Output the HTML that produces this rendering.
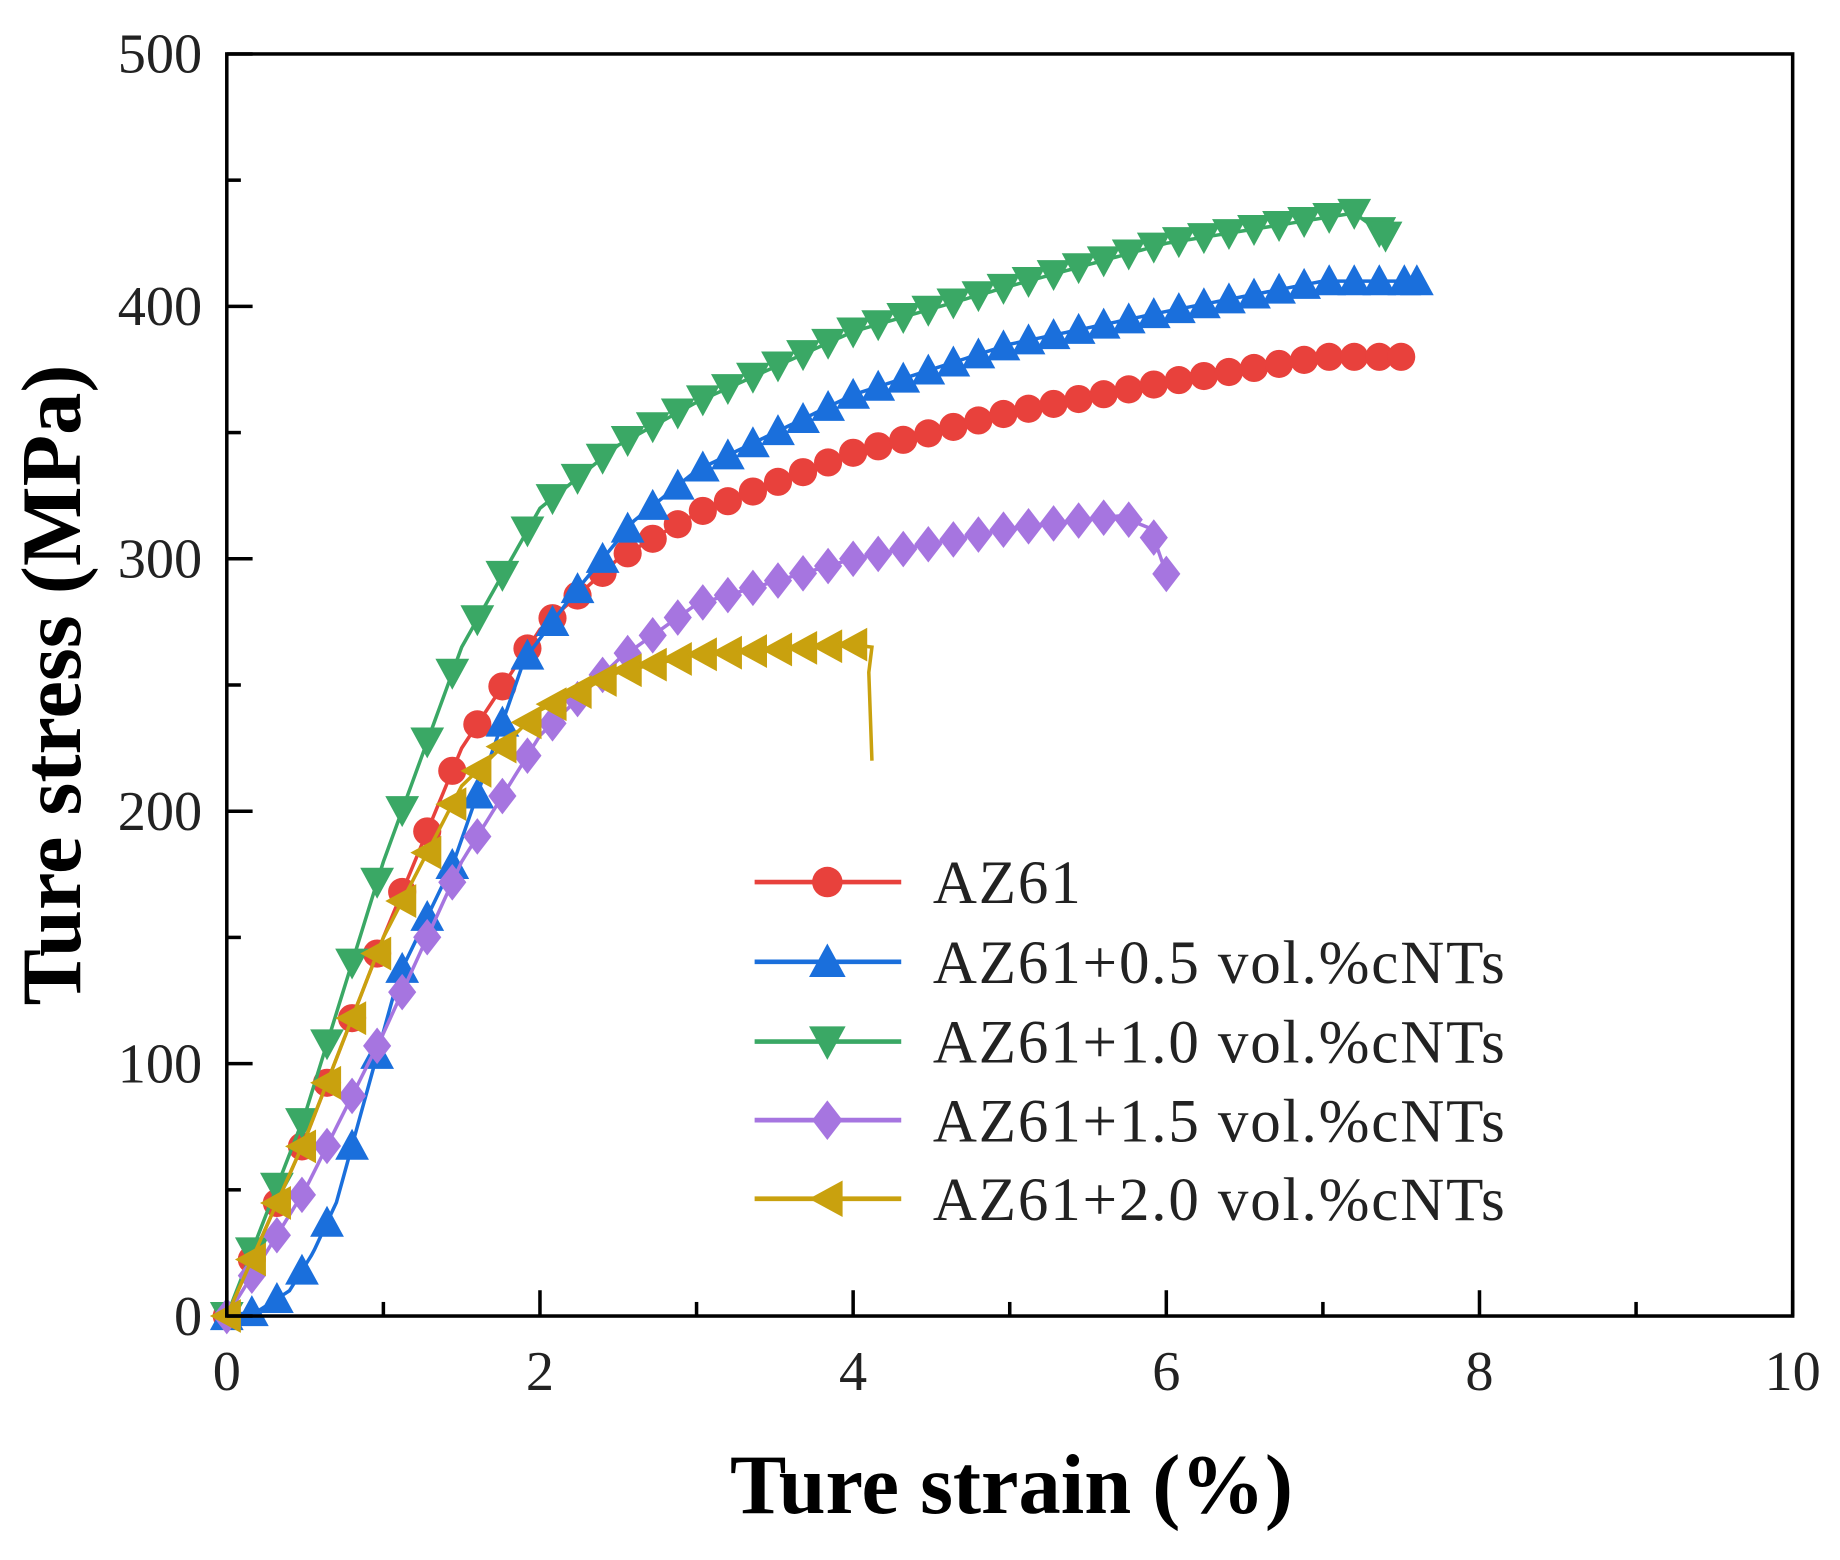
<!DOCTYPE html>
<html><head><meta charset="utf-8"><style>html,body{margin:0;padding:0;background:#fff}svg{display:block}</style></head>
<body>
<svg id="s" width="1840" height="1560" viewBox="0 0 1568 1330" xmlns="http://www.w3.org/2000/svg" font-family="'Liberation Serif',serif">
<rect width="1568" height="1330" fill="#fff"/>
<g id="data"></g>
<rect x="193" y="46" width="1335" height="1076" fill="none" stroke="#000" stroke-width="3"/>
<g id="ticks" stroke="#000" stroke-width="3"></g>
<g font-size="48" fill="#222" id="lbl"></g>
<text x="862" y="1290" font-size="72" font-weight="bold" text-anchor="middle">Ture strain (%)</text>
<text transform="translate(68,584) rotate(-90)" font-size="72" font-weight="bold" text-anchor="middle">Ture stress (MPa)</text>
<g id="leg" font-size="52" fill="#222" letter-spacing="1.6"></g>
</svg>
<script>
const NS="http://www.w3.org/2000/svg";
function el(p,t,a,txt){const e=document.createElementNS(NS,t);for(const k in a)e.setAttribute(k,a[k]);if(txt!==undefined)e.textContent=txt;document.getElementById(p).appendChild(e);return e;}
const X=v=>193+v*133.5, Y=v=>1122-v*2.152;
for(let i=0;i<=10;i++){const x=X(i);el('ticks','line',{x1:x,y1:1122,x2:x,y2:i%2?1110:1100});
 if(i%2==0)el('lbl','text',{x:x,y:1185,'text-anchor':'middle'},String(i));}
for(let j=0;j<=500;j+=50){const y=Y(j);el('ticks','line',{x1:193,y1:y,x2:j%100?205:215,y2:y});
 if(j%100==0)el('lbl','text',{x:172,y:y+16,'text-anchor':'end'},String(j));}
const S=[
 {c:'#e8413c',m:'o',p:[[0,0],[0.5,70],[1,150],[1.5,225],[2,272],[2.5,300],[3,318],[4,342],[5,358],[6,370],[7,380],[7.5,380]]},
 {c:'#1a6fdc',m:'^',p:[[0,0],[0.2,2],[0.4,10],[0.55,25],[0.7,45],[0.9,90],[1.1,135],[1.45,180],[1.9,260],[2.2,285],[2.6,315],[3,335],[4,365],[5,385],[6,398],[7,410],[7.6,410]]},
 {c:'#3aa865',m:'v',p:[[0,0],[0.5,80],[1,180],[1.5,265],[2,320],[2.5,345],[3,362],[4,390],[5,408],[6,425],[7,435],[7.2,437],[7.4,428]]},
 {c:'#a675e0',m:'d',p:[[0,0],[0.5,50],[1,112],[1.5,180],[2,230],[2.5,260],[3,282],[4,300],[5,312],[5.7,317],[5.9,312],[6,294]]},
 {c:'#c9a10e',m:'<',p:[[0,0],[0.5,70],[1,150],[1.5,210],[2,240],[2.5,255],[3,262],[4,266],[4.12,265]]}];
function mk(g,m,x,y,c,r){
 if(m=='o')el(g,'circle',{cx:x,cy:y,r:r,fill:c});
 else if(m=='^')el(g,'polygon',{points:`${x},${y-r*1.2} ${x-r*1.2},${y+r} ${x+r*1.2},${y+r}`,fill:c});
 else if(m=='v')el(g,'polygon',{points:`${x},${y+r*1.2} ${x-r*1.2},${y-r} ${x+r*1.2},${y-r}`,fill:c});
 else if(m=='d')el(g,'polygon',{points:`${x},${y-r*1.3} ${x+r},${y} ${x},${y+r*1.3} ${x-r},${y}`,fill:c});
 else el(g,'polygon',{points:`${x-r*1.2},${y} ${x+r},${y-r*1.2} ${x+r},${y+r*1.2}`,fill:c});}
function interp(p,x){for(let i=1;i<p.length;i++)if(x<=p[i][0]){const a=p[i-1],b=p[i];return a[1]+(b[1]-a[1])*(x-a[0])/(b[0]-a[0]);}return p[p.length-1][1];}
S.forEach(s=>{const g=el('data','g',{});g.id='g'+s.m;const last=s.p[s.p.length-1][0];
 let pts=[];for(let x=0;x<=last+1e-6;x+=0.02)pts.push(X(x)+','+Y(interp(s.p,x)));
 if(s.m=='<')pts.push(X(4.1)+','+Y(255),X(4.12)+','+Y(220));
 el(g.id,'polyline',{points:pts.join(' '),fill:'none',stroke:s.c,'stroke-width':3});
 for(let x=0;x<=last+1e-6;x+=0.16)mk(g.id,s.m,X(x),Y(interp(s.p,x)),s.c,12);
 if(s.m!='<')mk(g.id,s.m,X(last),Y(s.p[s.p.length-1][1]),s.c,12);});
const names=['AZ61','AZ61+0.5 vol.%cNTs','AZ61+1.0 vol.%cNTs','AZ61+1.5 vol.%cNTs','AZ61+2.0 vol.%cNTs'];
const ly=[752,820,888,955,1022];
S.forEach((s,i)=>{el('leg','line',{x1:643,y1:ly[i],x2:768,y2:ly[i],stroke:s.c,'stroke-width':4});mk('leg',s.m,705,ly[i],s.c,13);
 el('leg','text',{x:795,y:ly[i]+18},names[i]);});
</script>
</body></html>
